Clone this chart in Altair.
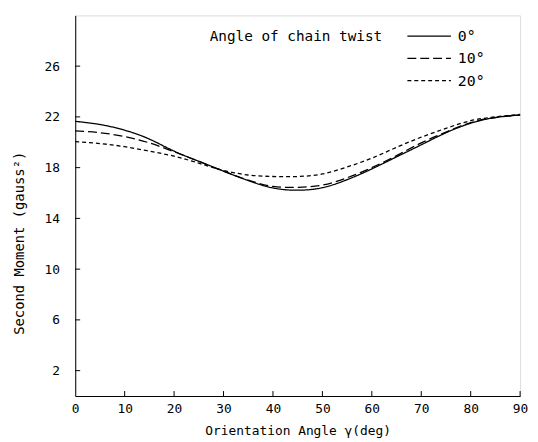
import altair as alt
import pandas as pd

angles = [0, 5, 10, 15, 20, 25, 30, 35, 40, 45, 50, 55, 60, 65, 70, 75, 80, 85, 90]
twist_0 = [21.65, 21.4, 20.95, 20.25, 19.3, 18.5, 17.72, 16.98, 16.4, 16.22, 16.42, 17.05, 17.9, 18.85, 19.8, 20.75, 21.5, 21.95, 22.15]
twist_10 = [20.9, 20.75, 20.45, 19.95, 19.25, 18.5, 17.72, 17.02, 16.52, 16.45, 16.62, 17.2, 18.0, 18.95, 19.95, 20.8, 21.55, 21.95, 22.15]
twist_20 = [20.05, 19.9, 19.65, 19.3, 18.9, 18.35, 17.78, 17.42, 17.3, 17.3, 17.5, 18.05, 18.75, 19.6, 20.4, 21.1, 21.7, 22.0, 22.2]
series_names = ["0°", "10°", "20°"]
legend_title = "Angle of chain twist"
y_ticks = [2, 6, 10, 14, 18, 22, 26]
x_ticks = [0, 10, 20, 30, 40, 50, 60, 70, 80, 90]
x_inner_ticks = [10, 20, 30, 40, 50, 60, 70, 80, 90]

rows = []
for name, vals in zip(series_names, [twist_0, twist_10, twist_20]):
    for a, v in zip(angles, vals):
        rows.append({"angle": a, "moment": v, "twist": name})
df = pd.DataFrame(rows)

FONT = "DejaVu Sans Mono"
W, H = 450, 385
xscale = alt.Scale(domain=[0, 90], nice=False, zero=False)
yscale = alt.Scale(domain=[0, 30], nice=False)
dash_scale = alt.Scale(domain=series_names, range=[[1, 0], [9, 4], [4, 3]])

lines = alt.Chart(df).mark_line(color="black", strokeWidth=1.3, interpolate="natural").encode(
    x=alt.X("angle:Q", scale=xscale,
            axis=alt.Axis(values=x_ticks, title="Orientation Angle γ(deg)", ticks=False,
                          grid=False, labelPadding=7, titlePadding=9, domainColor="black",
                          labelColor="black", titleColor="black", labelFontSize=13,
                          titleFontSize=13, titleFontWeight="normal", labelFont=FONT, titleFont=FONT,
                          labelFlush=False)),
    y=alt.Y("moment:Q", scale=yscale,
            axis=alt.Axis(values=y_ticks, title="Second Moment (gauss²)", ticks=False,
                          grid=False, labelPadding=16, domainColor="black",
                          labelColor="black", titleColor="black", labelFontSize=13,
                          titleFontSize=14, titleFontWeight="normal", labelFont=FONT, titleFont=FONT,
                          titleX=-56, titleY=230, titleAlign="center", titleBaseline="middle")),
    strokeDash=alt.StrokeDash("twist:N", scale=dash_scale, legend=None),
)

ytick_df = pd.DataFrame({"v": y_ticks})
yt = alt.Chart(ytick_df).mark_rule(color="black", strokeWidth=1).encode(
    y=alt.Y("v:Q", scale=yscale), x=alt.value(0), x2=alt.value(5))

xtick_df = pd.DataFrame({"v": x_inner_ticks})
xt = alt.Chart(xtick_df).mark_rule(color="black", strokeWidth=1).encode(
    x=alt.X("v:Q", scale=xscale), y=alt.value(H), y2=alt.value(H - 5))

# hand-made legend: one row per series, rows 22.5 px apart
legend_df = pd.DataFrame({"twist": series_names})
legend_layers = []
for i, name in enumerate(series_names):
    row_y = 21 + 22.5 * i
    base = alt.Chart(legend_df).transform_filter(alt.datum.twist == name)
    legend_layers.append(base.mark_rule(color="black", strokeWidth=1.3).encode(
        y=alt.value(row_y), x=alt.value(336), x2=alt.value(380),
        strokeDash=alt.StrokeDash("twist:N", scale=dash_scale, legend=None)))
    legend_layers.append(base.mark_text(align="left", baseline="middle", font=FONT,
                                        fontSize=15, color="black").encode(
        y=alt.value(row_y), x=alt.value(387), text="twist:N"))

leg_title = alt.Chart(pd.DataFrame({"t": [legend_title]})).mark_text(
    align="left", baseline="middle", font=FONT, fontSize=14.5, color="black").encode(
    x=alt.value(136), y=alt.value(22), text="t:N")

chart = alt.layer(lines, yt, xt, *legend_layers, leg_title).properties(
    width=W, height=H,
    autosize=alt.AutoSizeParams(type="none"),
    padding={"left": 68, "top": 5, "right": 10, "bottom": 40},
).configure_view(stroke=None).configure(background="white")

chart.save("out.html", embed_options={"renderer": "svg", "actions": False})
